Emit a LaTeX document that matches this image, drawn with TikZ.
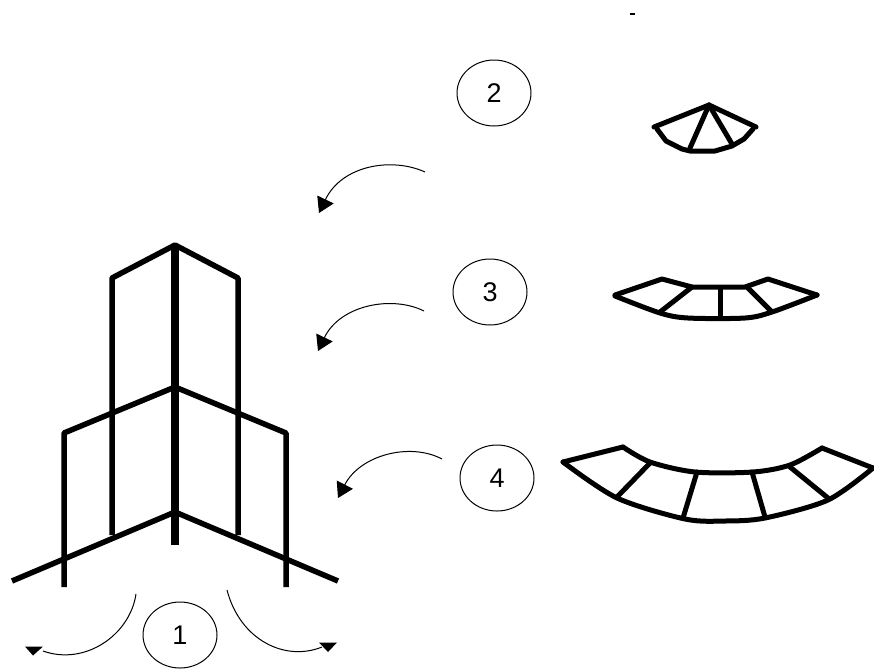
\documentclass[tikz,border=0pt]{standalone}
\usepackage{fontspec}
\setmainfont{Liberation Sans}
\usetikzlibrary{arrows.meta,shapes.geometric}
\tikzset{
  frame/.style={line width=5.5pt,line join=round,line cap=butt,black},
  mast/.style={line width=8pt,black},
  rib/.style={line width=5pt,line join=round,line cap=round,black},
  tag/.style={draw,line width=1pt,ellipse,minimum width=74pt,minimum height=66pt,inner sep=0pt,font=\fontsize{27}{27}\selectfont},
  sweep/.style={line width=1pt,black,-{Triangle[length=15pt,width=18pt]}},
  sweepline/.style={line width=1pt,black},
  tiphead/.style={fill=black,draw=none}
}
\begin{document}
\begin{tikzpicture}[x=1pt,y=-1pt]
\useasboundingbox (0,0) rectangle (874,670);
% elevation
\draw[frame] (112,535) -- (112,278) -- (175,245) -- (238,278) -- (238,535);
\draw[frame] (64,587) -- (64,433) -- (175,387) -- (286,433) -- (286,587);
\draw[frame] (12,581) -- (175,512) -- (338,581);
\draw[mast] (175,245) -- (175,545);
% fan 2
\draw[rib] (654,127) -- (709,105) -- (756,127);
\draw[rib] (657,129) -- (666,141) -- (682,149) -- (690,151) -- (715,151) -- (732,146) -- (744,139) -- (753,129);
\draw[rib] (709,105) -- (690,148);
\draw[rib] (709,105) -- (732,144);
% fan 3
\draw[rib] (615,295) -- (662,279) -- (692,287) -- (745,287) -- (768,279) -- (817,295);
\draw[rib] plot[smooth] coordinates {(615,296) (660,313) (688,318) (745,318) (772,312) (817,295)};
\draw[rib] (692,287) -- (660,312);
\draw[rib] (720,288) -- (720,317);
\draw[rib] (747,287) -- (771,311);
% fan 4
\draw[rib] (563,462) -- (623,447);
\draw[rib] plot[smooth] coordinates {(623,447) (650,462) (695,472) (753,472) (790,465) (822,448)};
\draw[rib] (822,448) -- (873,468);
\draw[rib] plot[smooth] coordinates {(563,462) (617,498) (685,519) (725,521) (765,518) (828,500) (873,468)};
\draw[rib] (650,463) -- (617,497);
\draw[rib] (697,472) -- (683,518);
\draw[rib] (752,472) -- (765,517);
\draw[rib] (790,467) -- (828,498);
% tags
\node[tag] (t1) at (180,635) {1};
\node[tag] (t2) at (494,93) {2};
\node[tag] (t3) at (490,292) {3};
\node[tag] (t4) at (497,478) {4};
% arrows
\coordinate (a1s) at (136,594);
\coordinate (a1e) at (43,651);
\coordinate (a2s) at (227,590);
\coordinate (a2e) at (322,647);
\coordinate (b2s) at (425,172);
\coordinate (b2e) at (319,213);
\coordinate (b3s) at (424,311);
\coordinate (b3e) at (318,351);
\coordinate (b4s) at (442,459);
\coordinate (b4e) at (338,498);
\draw[sweep] (b2s) .. controls (392,157) and (342,165) .. (b2e);
\draw[sweep] (b3s) .. controls (392,295) and (340,305) .. (b3e);
\draw[sweep] (b4s) .. controls (410,442) and (360,455) .. (b4e);
\draw[sweepline] (a1s) .. controls (130,635) and (85,666) .. (a1e);
\draw[sweepline] (a2s) .. controls (240,640) and (285,662) .. (a2e);
\fill[tiphead] (25,646.5) -- (43,646.5) -- (33,655.5) -- cycle;
\fill[tiphead] (319,642.5) -- (337,642.5) -- (328,652) -- cycle;
% speck
\draw[line width=2pt] (630,14) -- (635,14);
\end{tikzpicture}
\end{document}
